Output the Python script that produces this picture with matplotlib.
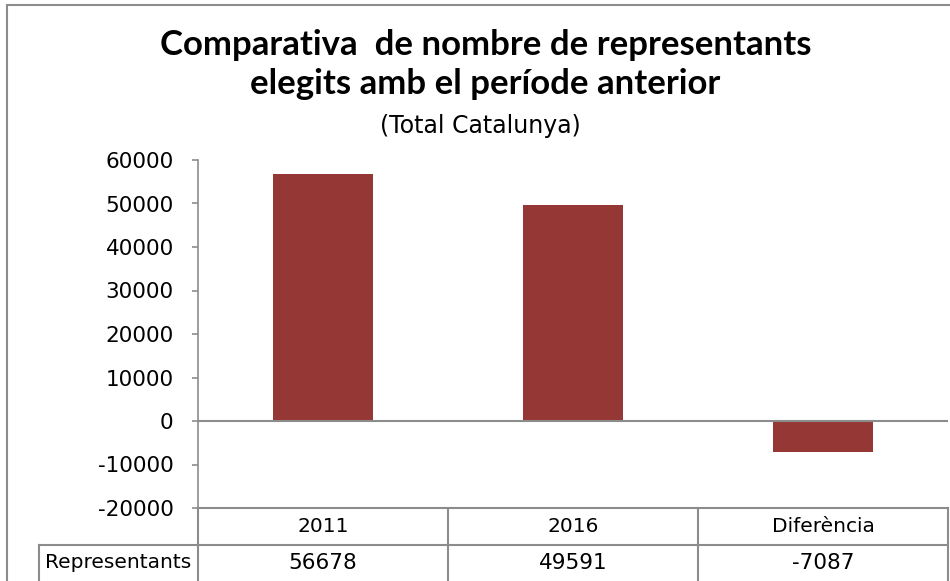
import matplotlib
matplotlib.use("Agg")
import matplotlib.pyplot as plt
from matplotlib.lines import Line2D
from matplotlib.patches import Rectangle

categories = ["2011", "2016", "Diferència"]
values = [56678, 49591, -7087]
row_label = "Representants"
yticks = [-20000, -10000, 0, 10000, 20000, 30000, 40000, 50000, 60000]
title_lines = ["Comparativa  de nombre de representants", "elegits amb el període anterior"]
subtitle = "(Total Catalunya)"

W, H = 950, 581
plt.rcParams['font.family'] = ['DejaVu Sans']
fig = plt.figure(figsize=(W / 100, H / 100), dpi=100)

gray = "#8c8c8c"
bar_color = "#953735"

# figure border
fig.patches.append(Rectangle((7 / W, -0.1), 2, 1 - 5 / H + 0.1, transform=fig.transFigure,
                             fill=False, edgecolor="#8c8c8c", linewidth=1.5))

ax_l, ax_r, ax_t, ax_b = 198, 948, 160, 508
ax = fig.add_axes([ax_l / W, 1 - ax_b / H, (ax_r - ax_l) / W, (ax_b - ax_t) / H])

x = list(range(len(categories)))
ax.bar(x, values, width=0.4, color=bar_color, zorder=3)
ax.set_xlim(-0.5, len(categories) - 0.5)
ax.set_ylim(yticks[0], yticks[-1])
ax.set_yticks(yticks)
ax.set_yticklabels([str(v) for v in yticks], fontsize=15.5)
ax.tick_params(axis='y', length=4.5, width=1.2, color=gray, pad=13)
ax.set_xticks([])
for s in ["top", "right", "bottom"]:
    ax.spines[s].set_visible(False)
ax.spines["left"].set_color(gray)
ax.spines["left"].set_linewidth(1.2)
ax.axhline(0, color=gray, linewidth=1.5, zorder=4)

def fx(px):
    return px / W

def fy(py):
    return 1 - py / H

# data table
top, mid, bot = 508, 545, 590
lw = 1.5
lines = [
    ((ax_l, ax_r), (top, top)),
    ((39, ax_r), (mid, mid)),
    ((39, 39), (mid, bot)),
]
col_w = (ax_r - ax_l) / len(categories)
for i in range(len(categories) + 1):
    xp = ax_l + i * col_w
    lines.append(((xp, xp), (top, bot)))
for (xs, ys) in lines:
    fig.add_artist(Line2D([fx(xs[0]), fx(xs[1])], [fy(ys[0]), fy(ys[1])],
                          transform=fig.transFigure, color=gray, linewidth=lw))

for i, (c, v) in enumerate(zip(categories, values)):
    cx = ax_l + (i + 0.5) * col_w
    fig.text(fx(cx), fy(527), c, ha="center", va="center", fontsize=14.5)
    fig.text(fx(cx), fy(563), str(v), ha="center", va="center", fontsize=15.5)
fig.text(fx(118), fy(563), row_label, ha="center", va="center", fontsize=14.5)

# titles
fig.text(fx(486), fy(55), title_lines[0], ha="center", va="baseline", fontsize=25,
         fontweight="bold", family=["Lato", "DejaVu Sans"])
fig.text(fx(485), fy(94), title_lines[1], ha="center", va="baseline", fontsize=25,
         fontweight="bold", family=["Lato", "DejaVu Sans"])
fig.text(fx(480), fy(133), subtitle, ha="center", va="baseline", fontsize=17)

fig.savefig("out.png", dpi=100)
